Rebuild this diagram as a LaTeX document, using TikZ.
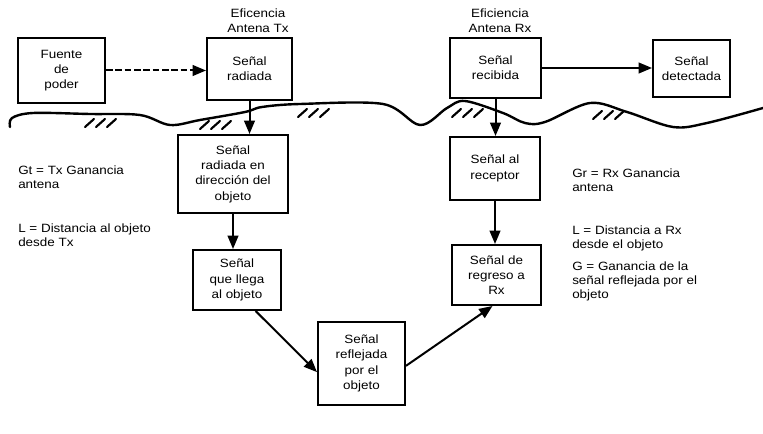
\documentclass[tikz,border=0pt]{standalone}
\usepackage{fontspec}
\setmainfont[FakeStretch=1.12]{Liberation Sans}
\usetikzlibrary{arrows.meta}
\begin{document}
\begin{tikzpicture}[x=0.75pt,y=-0.75pt,
  box/.style={draw, line width=1.5pt, align=center, inner sep=0pt,
    font=\fontsize{9}{11.5}\selectfont},
  sz/.style n args={2}{minimum width=#1, minimum height=#2},
  arr/.style={line width=1.5pt, -{Triangle[length=10pt,width=8pt]}},
  lbl/.style={align=left, anchor=north west, inner sep=0pt,
    font=\fontsize{9}{10.5}\selectfont},
  ttl/.style={align=center, inner sep=0pt, font=\fontsize{9}{11}\selectfont},
  ground/.style={line width=1.8pt, line cap=round, line join=round},
  hatch/.style={line width=1.6pt, line cap=round}]
\useasboundingbox (0,0) rectangle (763,434);

% boxes
\node[box, sz={65.25pt}{48.75pt}] (fuente) at (61.5,70.5) {Fuente\\de\\poder};
\node[box, sz={63.75pt}{46.5pt}] (radiada) at (249.5,69) {Señal\\radiada};
\node[box, sz={68.25pt}{45pt}] (recibida) at (495.5,68) {Señal\\recibida};
\node[box, sz={57.75pt}{42.75pt}] (detectada) at (691.5,68.5) {Señal\\detectada};
\node[box, sz={82.5pt}{58.5pt}] (direccion) at (233,174) {Señal\\radiada en\\dirección del\\objeto};
\node[box, sz={66pt}{45pt}] (llega) at (237,280) {Señal\\que llega\\al objeto};
\node[box, sz={65.25pt}{62.25pt}] (reflejada) at (361.5,363.5) {Señal\\reflejada\\por el\\objeto};
\node[box, sz={67.5pt}{47.25pt}] (receptor) at (495,168.5) {Señal al\\receptor};
\node[box, sz={66.75pt}{45pt}] (regreso) at (496.5,275) {Señal de\\regreso a\\Rx};

% titles
\node[ttl] (efTx) at (258,21) {Eficencia\\Antena Tx};
\node[ttl] (efRx) at (500,21) {Eficiencia\\Antena Rx};

% side labels
\node[lbl] (gt) at (18,166) {Gt = Tx Ganancia\\antena};
\node[lbl] (lt) at (18,224) {L = Distancia al objeto\\desde Tx};
\node[lbl] (gr) at (572,169) {Gr = Rx Ganancia\\antena};
\node[lbl] (lr) at (572,226) {L = Distancia a Rx\\desde el objeto};
\node[lbl] (gg) at (572,262) {G = Ganancia de la\\señal reflejada por el\\objeto};

% ground line
\draw[ground] plot[smooth, tension=0.55] coordinates {
  (10,127) (12,118) (33,113) (90,114) (140,115) (170,125) (200,120)
  (245,112) (262,107) (300,104) (383,104) (420,125) (447,108) (465,101)
  (503,113) (525,123) (545,122) (590,103) (627,112) (673,127) (707,123) (763,108)};

% hatches
\foreach \hx/\hy in {85/123, 200/125, 298/113, 452/113, 593/115}{
  \foreach \k in {0,1,2}{
    \draw[hatch] (\hx+\k*11,\hy+4) -- ++(9,-8);
  }
}

% connectors
\draw[arr, dash pattern=on 5pt off 2pt] (fuente.east) -- (fuente.east -| radiada.west);
\draw[arr] (radiada.south) -- (radiada.south |- direccion.north);
\draw[arr] (direccion.south) -- (direccion.south |- llega.north);
\draw[arr] (llega.-59) -- (reflejada.191);
\draw[arr] (reflejada.-3) -- ([xshift=-3pt]regreso.south);
\draw[arr] (recibida.south) -- (recibida.south |- receptor.north);
\draw[arr] (receptor.south) -- (receptor.south |- regreso.north);
\draw[arr] (recibida.east) -- (recibida.east -| detectada.west);
\end{tikzpicture}
\end{document}
